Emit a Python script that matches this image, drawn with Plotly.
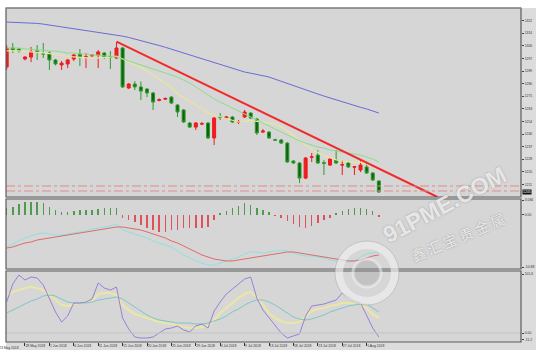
import plotly.graph_objects as go

# ---------------- data ----------------
bars = list(range(62))

opens = [1290.9, 1303.9, 1303.2, 1296.4, 1297.7, 1302.0, 1300.0, 1300.5, 1295.7, 1292.3,
         1293.0, 1296.4, 1299.8, 1297.5, 1298.6, 1299.1, 1300.5, 1297.9, 1297.1, 1303.9,
         1276.6, 1279.3, 1277.3, 1275.9, 1273.2, 1268.1, 1269.0, 1270.4, 1265.0, 1261.6,
         1252.7, 1249.9, 1252.0, 1252.7, 1242.5, 1256.9, 1256.1, 1256.8, 1253.2, 1256.8,
         1259.5, 1255.4, 1246.5, 1246.5, 1241.3, 1241.1, 1239.0, 1226.8, 1225.4, 1215.1,
         1229.3, 1230.8, 1225.6, 1224.0, 1227.4, 1224.0, 1225.4, 1222.5, 1220.6, 1222.7,
         1218.6, 1213.1]
highs = [1305.9, 1307.3, 1304.0, 1298.4, 1304.6, 1305.9, 1307.3, 1301.8, 1296.4, 1295.0,
         1296.4, 1299.8, 1303.2, 1300.5, 1299.8, 1302.5, 1301.2, 1301.8, 1308.0, 1304.6,
         1280.0, 1281.3, 1281.0, 1276.6, 1273.9, 1269.5, 1270.2, 1271.1, 1265.6, 1262.3,
         1253.4, 1253.4, 1253.4, 1253.4, 1256.8, 1259.5, 1257.5, 1257.5, 1254.7, 1261.6,
         1260.2, 1256.1, 1248.6, 1247.2, 1242.0, 1241.8, 1239.7, 1227.4, 1226.1, 1229.5,
         1232.2, 1234.2, 1227.4, 1229.5, 1234.2, 1227.4, 1226.1, 1223.4, 1227.4, 1226.1,
         1219.2, 1213.8]
lows = [1289.0, 1300.5, 1300.8, 1295.5, 1294.3, 1295.7, 1297.1, 1288.9, 1292.0, 1288.9,
        1290.2, 1295.0, 1291.6, 1290.2, 1297.7, 1290.2, 1296.4, 1289.6, 1296.4, 1276.6,
        1275.9, 1275.2, 1268.4, 1270.4, 1261.6, 1267.5, 1268.4, 1265.6, 1256.8, 1252.7,
        1249.2, 1247.9, 1251.3, 1241.8, 1237.7, 1254.7, 1255.4, 1252.7, 1252.0, 1256.1,
        1255.4, 1244.5, 1245.9, 1241.8, 1240.4, 1238.4, 1225.4, 1224.7, 1211.7, 1214.4,
        1226.1, 1224.7, 1217.2, 1223.3, 1224.7, 1217.2, 1222.0, 1217.2, 1219.2, 1217.9,
        1213.1, 1204.9]
closes = [1303.9, 1302.5, 1301.8, 1297.7, 1301.2, 1301.2, 1299.8, 1295.7, 1293.0, 1293.6,
          1295.7, 1299.1, 1297.7, 1297.9, 1298.9, 1301.2, 1297.7, 1297.5, 1303.9, 1277.3,
          1279.3, 1277.3, 1274.5, 1273.2, 1267.0, 1268.6, 1269.4, 1266.3, 1260.2, 1253.4,
          1249.9, 1252.7, 1252.2, 1242.5, 1256.1, 1256.6, 1256.8, 1253.4, 1253.6, 1260.2,
          1256.1, 1245.9, 1247.2, 1242.5, 1241.0, 1239.0, 1226.1, 1225.4, 1215.1, 1228.8,
          1229.6, 1225.4, 1225.2, 1228.1, 1225.4, 1224.2, 1222.7, 1222.9, 1224.0, 1218.6,
          1213.8, 1205.6]

ma_slow = [1321.6, 1321.5, 1321.4, 1321.2, 1321.0, 1320.7, 1320.2, 1319.6, 1319.0, 1318.4,
           1317.8, 1317.2, 1316.5, 1315.5, 1315.0, 1314.4, 1313.9, 1313.3, 1312.8, 1312.0,
           1311.1, 1310.1, 1309.1, 1308.0, 1306.8, 1305.6, 1304.4, 1303.1, 1301.8, 1300.5,
           1299.1, 1297.7, 1296.3, 1294.9, 1293.6, 1292.4, 1291.2, 1290.0, 1288.8, 1287.5,
           1286.7, 1285.9, 1285.0, 1284.1, 1282.6, 1281.1, 1279.6, 1278.0, 1276.6, 1275.3,
           1273.9, 1272.5, 1271.1, 1269.8, 1268.4, 1267.0, 1265.7, 1264.3, 1263.4, 1262.3,
           1260.9, 1259.5]
ma_mid = [1303.9, 1303.9, 1303.9, 1303.2, 1303.2, 1302.5, 1302.5, 1301.8, 1301.8, 1301.2,
          1300.5, 1300.5, 1299.8, 1299.8, 1299.1, 1299.1, 1298.4, 1298.4, 1297.7, 1296.4,
          1295.0, 1293.6, 1292.3, 1290.9, 1289.6, 1288.2, 1286.8, 1285.5, 1284.1, 1282.0,
          1280.0, 1277.3, 1274.5, 1271.8, 1269.1, 1267.0, 1265.0, 1262.9, 1260.9, 1258.8,
          1256.8, 1254.7, 1252.7, 1250.6, 1248.6, 1246.5, 1244.5, 1242.5, 1240.4, 1239.0,
          1237.7, 1236.3, 1235.6, 1234.3, 1233.6, 1232.9, 1232.2, 1231.5, 1230.8, 1229.5,
          1228.1, 1226.1]
ma_fast = [1302.0, 1302.1, 1302.0, 1301.5, 1301.3, 1300.9, 1300.6, 1300.0, 1299.2, 1298.5,
           1298.1, 1297.8, 1297.4, 1297.1, 1297.0, 1297.2, 1297.4, 1297.6, 1298.4, 1296.5,
           1294.8, 1292.6, 1290.5, 1288.3, 1285.6, 1282.8, 1280.0, 1276.9, 1272.5, 1270.2,
           1267.2, 1264.8, 1262.6, 1259.5, 1258.4, 1257.2, 1255.9, 1254.6, 1253.3, 1253.9,
           1254.5, 1253.8, 1253.3, 1252.3, 1251.9, 1250.2, 1247.1, 1244.3, 1240.5, 1237.4,
           1234.6, 1232.6, 1230.4, 1229.1, 1227.5, 1226.8, 1226.4, 1225.8, 1226.0, 1224.9,
           1223.4, 1221.4]

trend_x = [18, 70.6]
trend_y = [1308.3, 1202.2]
levels = [1209.7, 1206.3]
last_price = "1205"

price_ticks = [1322.6, 1314.0, 1305.4, 1296.8, 1288.2, 1279.6, 1271.0, 1262.4, 1253.8,
               1245.2, 1236.6, 1228.0, 1219.4, 1210.8]
price_labels = ["1322", "1314", "1306", "1297", "1289", "1280", "1271", "1263", "1254",
                "1246", "1237", "1228", "1220", "1211"]

macd_hist = [1.46, 1.67, 2.30, 2.72, 2.72, 2.72, 2.51, 1.67, 1.05, 0.63,
             0.63, 0.84, 1.05, 1.05, 1.05, 1.25, 1.46, 1.46, 1.46, -0.63,
             -1.05, -1.46, -2.09, -2.72, -3.14, -3.55, -3.55, -3.14, -3.14, -2.72,
             -2.72, -2.72, -2.72, -2.51, -1.05, 0.42, 0.84, 1.46, 1.88, 2.51,
             2.09, 1.46, 1.05, 0.63, -0.21, -0.63, -1.25, -1.88, -2.51, -2.72,
             -2.30, -1.67, -1.05, -0.63, 0.42, 0.84, 1.25, 1.46, 1.46, 1.25,
             0.84, -0.42]
macd_main = [-6.69, -6.06, -5.43, -4.81, -4.39, -3.97, -3.76, -3.97, -4.18, -4.18,
             -3.97, -3.76, -3.55, -3.34, -2.93, -2.72, -2.51, -2.30, -1.88, -3.14,
             -3.55, -3.97, -4.39, -4.81, -5.43, -5.85, -6.27, -6.69, -7.52, -8.36,
             -8.99, -9.61, -10.03, -10.45, -10.45, -10.03, -9.61, -9.20, -8.78, -8.15,
             -7.73, -7.73, -7.94, -7.73, -7.52, -7.32, -7.52, -7.94, -8.36, -8.57,
             -8.57, -8.78, -8.99, -9.41, -9.61, -9.82, -9.82, -9.61, -8.78, -8.15,
             -7.94, -7.73]
macd_signal = [-6.90, -6.69, -6.27, -5.85, -5.64, -5.23, -5.02, -4.81, -4.60, -4.39,
               -4.18, -3.97, -3.76, -3.55, -3.34, -3.14, -2.93, -2.72, -2.51, -2.51,
               -2.72, -2.93, -3.14, -3.55, -3.97, -4.39, -4.81, -5.43, -5.85, -6.48,
               -7.11, -7.73, -8.36, -8.78, -9.20, -9.41, -9.61, -9.61, -9.41, -9.20,
               -8.99, -8.78, -8.57, -8.36, -8.15, -7.94, -7.73, -7.73, -7.94, -8.15,
               -8.36, -8.57, -8.78, -8.99, -9.20, -9.41, -9.61, -9.61, -9.41, -8.99,
               -8.57, -8.36]
macd_ticks = [3.084, 0.0, -10.88]
macd_labels = ["3.084", "0.00", "-10.88"]

kdj_j = [53.4, 84.4, 99.9, 91.3, 96.4, 94.7, 82.7, 60.3, 36.2, 18.9,
         29.3, 51.7, 51.7, 53.4, 58.5, 86.1, 77.5, 74.0, 79.2, 25.8,
         6.9, -6.9, -8.6, -8.6, -6.9, 0.0, 6.9, 8.6, 12.1, 5.2,
         1.7, 12.1, 15.5, 8.6, 37.9, 53.4, 67.2, 75.8, 84.4, 93.0,
         96.4, 60.3, 39.6, 25.8, 12.1, 0.0, -8.6, -5.2, -1.7, 29.3,
         46.5, 48.2, 49.9, 53.4, 56.8, 68.9, 62.0, 55.1, 51.7, 31.0,
         8.6, -6.9]
kdj_k = [65.4, 70.6, 74.0, 77.5, 79.2, 77.5, 74.0, 65.4, 56.8, 48.2,
         46.5, 49.9, 51.7, 53.4, 55.1, 67.2, 68.9, 68.9, 65.4, 48.2,
         39.6, 32.7, 29.3, 25.8, 22.4, 18.9, 17.2, 15.5, 13.8, 10.3,
         8.6, 8.6, 10.3, 12.1, 22.4, 34.4, 43.1, 51.7, 60.3, 67.2,
         70.6, 62.0, 48.2, 34.4, 25.8, 20.7, 17.2, 17.2, 18.9, 29.3,
         37.9, 41.3, 43.1, 46.5, 48.2, 51.7, 51.7, 51.7, 49.9, 43.1,
         32.7, 25.8]
kdj_d = [34.4, 39.6, 44.8, 49.9, 55.1, 58.5, 63.7, 65.4, 63.7, 58.5,
         53.4, 51.7, 51.7, 51.7, 53.4, 56.8, 58.5, 60.3, 62.0, 58.5,
         51.7, 44.8, 37.9, 31.0, 25.8, 22.4, 20.7, 18.9, 17.2, 17.2,
         17.2, 15.5, 15.5, 17.2, 20.7, 24.1, 29.3, 36.2, 41.3, 48.2,
         53.4, 56.8, 56.8, 53.4, 48.2, 41.3, 34.4, 27.6, 24.1, 22.4,
         24.1, 27.6, 31.0, 36.2, 39.6, 43.1, 46.5, 48.2, 49.9, 49.9,
         43.1, 36.2]
kdj_ticks = [101.6, 0.0, -11.2]
kdj_labels = ["101.6", "0.00", "-11.2"]

date_ticks = [3, 7, 11, 15, 19, 23, 27, 31, 35, 39, 43, 47, 51, 55, 59]
date_labels = ["28 May 2018", "1 Jun 2018", "6 Jun 2018", "11 Jun 2018", "15 Jun 2018",
               "20 Jun 2018", "25 Jun 2018", "29 Jun 2018", "4 Jul 2018", "9 Jul 2018",
               "13 Jul 2018", "18 Jul 2018", "23 Jul 2018", "27 Jul 2018", "1 Aug 2018"]
first_label = "23 May 2018"

# ---------------- layout geometry ----------------
W, H = 540, 359
ML, MR, MT, MB = 6, 19, 8, 17
PW, PH = W - ML - MR, H - MT - MB


def px(x):
    return (x - ML) / PW


def py(y):
    return (H - MB - y) / PH


dom_price = [py(197), 1.0]
dom_macd = [py(269), py(199)]
dom_kdj = [0.0, py(271)]

BG = "#d6d6d6"
TICKFONT = dict(family="Liberation Sans, Arial", size=3.4, color="#333333")

fig = go.Figure()

fig.add_trace(go.Candlestick(
    x=bars, open=opens, high=highs, low=lows, close=closes,
    increasing=dict(line=dict(color="#ee1c1c", width=1), fillcolor="#f01e1e"),
    decreasing=dict(line=dict(color="#2f9a2f", width=1), fillcolor="#0b630b"),
    whiskerwidth=0, xaxis="x", yaxis="y", showlegend=False, hoverinfo="skip"))

fig.add_trace(go.Scatter(x=bars, y=ma_slow, mode="lines", line=dict(color="#6a6ad8", width=1),
                         xaxis="x", yaxis="y", showlegend=False))
fig.add_trace(go.Scatter(x=bars, y=ma_fast, mode="lines", line=dict(color="#ebe59a", width=1.2),
                         xaxis="x", yaxis="y", showlegend=False))
fig.add_trace(go.Scatter(x=bars, y=ma_mid, mode="lines", line=dict(color="#8cdc8c", width=1),
                         xaxis="x", yaxis="y", showlegend=False))
fig.add_trace(go.Scatter(x=trend_x, y=trend_y, mode="lines", line=dict(color="#f22a2a", width=2),
                         xaxis="x", yaxis="y", showlegend=False))

hist_colors = ["#4f9a4f" if v >= 0 else "#e0505a" for v in macd_hist]
fig.add_trace(go.Bar(x=bars, y=macd_hist, marker=dict(color=hist_colors, line=dict(width=0)),
                     width=0.24, xaxis="x", yaxis="y2", showlegend=False))
fig.add_trace(go.Scatter(x=bars, y=macd_main, mode="lines", line=dict(color="#8fe0e0", width=1),
                         xaxis="x", yaxis="y2", showlegend=False))
fig.add_trace(go.Scatter(x=bars, y=macd_signal, mode="lines", line=dict(color="#e06a6a", width=1),
                         xaxis="x", yaxis="y2", showlegend=False))

fig.add_trace(go.Scatter(x=bars, y=kdj_k, mode="lines", line=dict(color="#ebe6a6", width=2.2),
                         xaxis="x", yaxis="y3", showlegend=False))
fig.add_trace(go.Scatter(x=bars, y=kdj_d, mode="lines", line=dict(color="#7ec6c6", width=1),
                         xaxis="x", yaxis="y3", showlegend=False))
fig.add_trace(go.Scatter(x=bars, y=kdj_j, mode="lines", line=dict(color="#9a80d8", width=1),
                         xaxis="x", yaxis="y3", showlegend=False))

shapes = []
# outer gray area (incl. label column and date strip)
shapes.append(dict(type="rect", xref="paper", yref="paper", x0=0, x1=px(536), y0=py(350), y1=1,
                   fillcolor="#dcdcdc", line=dict(width=0), layer="below"))
shapes.append(dict(type="rect", xref="paper", yref="paper", x0=0, x1=1, y0=0, y1=1,
                   fillcolor=BG, line=dict(width=0), layer="below"))
# level lines
for lv in levels:
    shapes.append(dict(type="line", xref="paper", yref="y", x0=0, x1=1, y0=lv, y1=lv,
                       line=dict(color="#e48a8a", width=1, dash="dashdot")))
# stochastic zero line
shapes.append(dict(type="line", xref="paper", yref="y3", x0=0, x1=1, y0=0, y1=0,
                   line=dict(color="#c4c4c4", width=1)))
# panel frames
for ref in ["y", "y2", "y3"]:
    shapes.append(dict(type="rect", xref="paper", yref=ref + " domain", x0=0, x1=1, y0=0, y1=1,
                       line=dict(color="#5c5c5c", width=1.2)))
# top border lighter
shapes.append(dict(type="line", xref="paper", yref="paper", x0=0, x1=1, y0=1, y1=1,
                   line=dict(color="#8a8a8a", width=1.2)))

# watermark ring
cx, cy, r = 367, 273, 28
shapes.append(dict(type="circle", xref="paper", yref="paper",
                   x0=px(cx - r), x1=px(cx + r), y0=py(cy + r), y1=py(cy - r),
                   line=dict(color="rgba(240,240,240,0.65)", width=8)))
shapes.append(dict(type="circle", xref="paper", yref="paper",
                   x0=px(cx - r - 4), x1=px(cx + r + 4), y0=py(cy + r + 4), y1=py(cy - r - 4),
                   line=dict(color="rgba(140,140,140,0.35)", width=1)))
shapes.append(dict(type="circle", xref="paper", yref="paper",
                   x0=px(cx - 14), x1=px(cx + 14), y0=py(cy + 14), y1=py(cy - 14),
                   fillcolor="rgba(150,150,150,0.3)", line=dict(color="rgba(245,245,245,0.5)", width=3)))

annotations = []
annotations.append(dict(xref="paper", yref="y", x=1, y=closes[-1], text=last_price, showarrow=False,
                        xanchor="left", xshift=1, bgcolor="#111111", borderpad=0,
                        font=dict(family="Liberation Sans, Arial", size=3.5, color="#ffffff")))
annotations.append(dict(xref="paper", yref="paper", x=0, y=0, text=first_label, showarrow=False,
                        xanchor="left", yanchor="top", xshift=-9, yshift=-2,
                        font=TICKFONT))
annotations.append(dict(xref="paper", yref="paper", x=px(444), y=py(205), text="<b>91PME.COM</b>",
                        showarrow=False, textangle=-28, xanchor="center", yanchor="middle",
                        font=dict(family="Liberation Sans, Arial", size=23, color="rgba(250,250,250,0.8)",
                                  shadow="0px 0px 2px rgba(120,120,120,0.8)")))
annotations.append(dict(xref="paper", yref="paper", x=px(458), y=py(237), text="鑫 汇 宝 贵 金 属",
                        showarrow=False, textangle=-23, xanchor="center", yanchor="middle",
                        font=dict(family="Noto Sans CJK SC", size=14, color="rgba(250,250,250,0.82)",
                                  shadow="0px 0px 2px rgba(110,110,110,0.8)")))

fig.update_layout(
    width=W, height=H, autosize=False,
    margin=dict(l=ML, r=MR, t=MT, b=MB, autoexpand=False),
    paper_bgcolor="#ffffff", plot_bgcolor=BG,
    showlegend=False, bargap=0,
    shapes=shapes, annotations=annotations,
    xaxis=dict(domain=[0, 1], anchor="y3", range=[-0.11, 84.3], showgrid=False, zeroline=False,
               rangeslider=dict(visible=False), tickmode="array", tickvals=date_ticks,
               ticktext=date_labels, ticks="outside", ticklen=3, tickcolor="#333333",
               ticklabelposition="outside right", tickangle=0, tickfont=TICKFONT,
               showline=False, automargin=False),
    yaxis=dict(domain=dom_price, anchor="x", side="right", range=[1202.2, 1331.2],
               showgrid=False, zeroline=False, tickmode="array", tickvals=price_ticks,
               ticktext=price_labels, ticks="outside", ticklen=2, tickcolor="#444444",
               tickfont=TICKFONT, automargin=False),
    yaxis2=dict(domain=dom_macd, anchor="x", side="right", range=[-11.29, 3.34],
                showgrid=False, zeroline=False, tickmode="array", tickvals=macd_ticks,
                ticktext=macd_labels, ticks="outside", ticklen=2, tickcolor="#444444",
                tickfont=TICKFONT, automargin=False),
    yaxis3=dict(domain=dom_kdj, anchor="x", side="right", range=[-15.5, 106.8],
                showgrid=False, zeroline=False, tickmode="array", tickvals=kdj_ticks,
                ticktext=kdj_labels, ticks="outside", ticklen=2, tickcolor="#444444",
                tickfont=TICKFONT, automargin=False),
)

fig.write_html("out.html", config={"displayModeBar": False, "staticPlot": True},
               post_script="document.body.style.margin='0px';document.body.style.overflow='hidden';")
